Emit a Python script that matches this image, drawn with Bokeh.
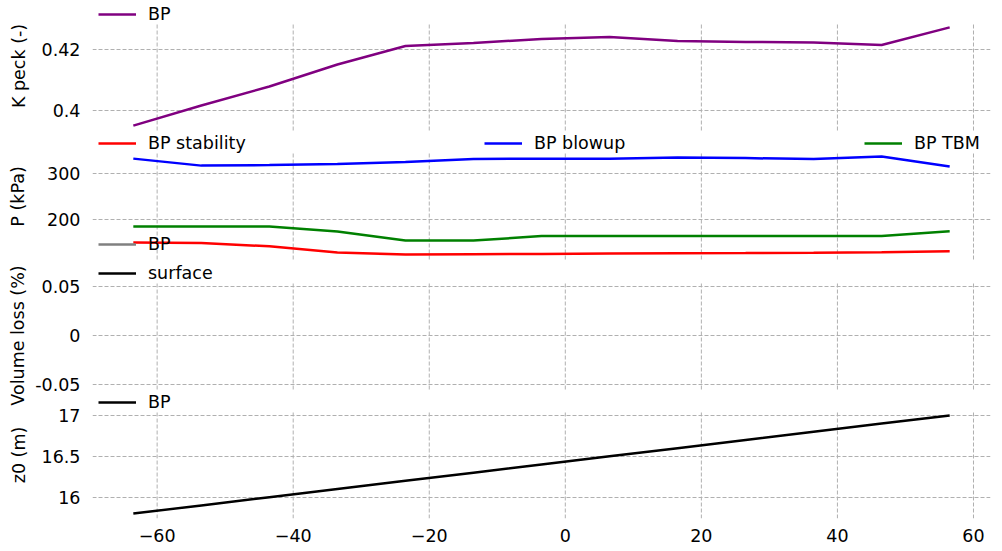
from bokeh.plotting import figure
from bokeh.models import Range1d, FixedTicker, Grid, Legend, LegendItem
from bokeh.layouts import column
from bokeh.embed import file_html
from bokeh.resources import INLINE

nan = float("nan")

# ---- data ----
chainage = [-63.5, -53.5, -43.5, -33.5, -23.5, -13.5, -3.5, 6.5, 16.5, 26.5, 36.5, 46.5, 56.5]

k_peck_bp = [0.39506, 0.40165, 0.40791, 0.41516, 0.42125, 0.42224, 0.42356,
             0.42422, 0.42290, 0.42257, 0.42241, 0.42158, 0.42735]

p_stability = [150.5, 149.6, 142.3, 128.7, 124.4, 125.1, 125.9, 126.6, 127.2, 127.6, 128.3, 129.4, 131.5]
p_blowup = [331.7, 316.6, 317.7, 319.9, 324.2, 330.7, 331.7, 331.7, 333.9, 332.8, 330.7, 336.5, 314.5]
p_tbm = [184.9, 184.9, 184.9, 174.1, 154.6, 154.6, 164.4, 164.4, 164.4, 164.4, 164.4, 164.4, 174.7]

vol_loss_bp = [nan, nan, nan, nan, nan, nan, nan, nan, nan, nan, nan, nan, nan]
vol_loss_surface = [nan, nan, nan, nan, nan, nan, nan, nan, nan, nan, nan, nan, nan]

z0_bp = [15.8, 15.9, 16.0, 16.1, 16.2, 16.3, 16.4, 16.5, 16.6, 16.7, 16.8, 16.9, 17.0]

x_ticks = [-60, -40, -20, 0, 20, 40, 60]
x_tick_labels = ["\u221260", "\u221240", "\u221220", "0", "20", "40", "60"]
k_ticks = [0.4, 0.42]
k_tick_labels = ["0.4", "0.42"]
p_ticks = [200, 300]
p_tick_labels = ["200", "300"]
v_ticks = [-0.05, 0, 0.05]
v_tick_labels = ["-0.05", "0", "0.05"]
z_ticks = [16, 16.5, 17]
z_tick_labels = ["16", "16.5", "17"]

# ---- styling ----
FONT = "DejaVu Sans"
FS = "17.5px"
GRID_COLOR = "#b0b0b0"
DASH = "4 2"
LW = 2.5


def padded(values):
    vals = [v for v in values if v == v]
    lo, hi = min(vals), max(vals)
    pad = 0.05 * (hi - lo)
    return lo - pad, hi + pad


x_lo, x_hi = padded(chainage)
xr = Range1d(x_lo, x_hi)


def make_fig(canvas_h, bottom_border, band_top, band_bottom, bounds,
             ticks, labels, ylabel, label_standoff, with_x=False, **kw):
    """band_top / band_bottom: pixel rows (from canvas top) of the panel's data band."""
    lo, hi = bounds
    frame_h = canvas_h - bottom_border
    per_px = (hi - lo) / (band_bottom - band_top)
    yr = Range1d(lo - (frame_h - band_bottom) * per_px, hi + band_top * per_px)
    p = figure(width=1002, height=canvas_h, x_range=xr, y_range=yr,
               output_backend="svg", toolbar_location=None,
               x_axis_location="below" if with_x else None,
               min_border_left=92, min_border_right=12,
               min_border_top=0, min_border_bottom=bottom_border, **kw)
    p.outline_line_color = None
    for g in p.grid:
        g.visible = False
    # horizontal grid lines at the y ticks
    p.add_layout(Grid(dimension=1, ticker=FixedTicker(ticks=ticks),
                      grid_line_color=GRID_COLOR, grid_line_dash=DASH, grid_line_width=1))
    # vertical grid lines, limited to this panel's band
    n = len(x_ticks)
    p.segment(x0=x_ticks, y0=[lo] * n, x1=x_ticks, y1=[hi] * n,
              line_color=GRID_COLOR, line_dash=DASH, line_width=1, level="underlay")
    ax = p.yaxis[0]
    ax.bounds = (lo, hi)
    ax.ticker = FixedTicker(ticks=ticks)
    ax.major_label_overrides = dict(zip(ticks, labels))
    ax.axis_label = ylabel
    ax.axis_line_color = None
    ax.major_tick_line_color = None
    ax.minor_tick_line_color = None
    ax.major_tick_out = 0
    ax.major_tick_in = 0
    ax.major_label_standoff = 12
    ax.axis_label_standoff = label_standoff
    ax.major_label_text_font = FONT
    ax.major_label_text_font_size = FS
    ax.major_label_text_color = "black"
    ax.axis_label_text_font = FONT
    ax.axis_label_text_font_size = FS
    ax.axis_label_text_font_style = "normal"
    ax.axis_label_text_color = "black"
    if with_x:
        xa = p.xaxis[0]
        xa.ticker = FixedTicker(ticks=x_ticks)
        xa.major_label_overrides = dict(zip(x_ticks, x_tick_labels))
        xa.axis_line_color = None
        xa.major_tick_line_color = None
        xa.minor_tick_line_color = None
        xa.major_tick_out = 0
        xa.major_tick_in = 0
        xa.major_label_standoff = 10
        xa.major_label_text_font = FONT
        xa.major_label_text_font_size = FS
        xa.major_label_text_color = "black"
    return p


def add_legend(p, label, renderer, vx, vy):
    p.add_layout(Legend(items=[LegendItem(label=label, renderers=[renderer])],
                        location=(vx, vy), orientation="vertical",
                        border_line_color=None, background_fill_alpha=0,
                        padding=0, margin=0, spacing=0,
                        glyph_width=38, glyph_height=20, label_height=20,
                        label_standoff=12, label_text_font=FONT, label_text_font_size=FS,
                        label_text_color="black"))


# panel 1: K peck  (canvas rows 0..131)
p1 = make_fig(131, 0, 22, 130, padded(k_peck_bp), k_ticks, k_tick_labels, "K peck (-)", 10)
r1 = p1.line(chainage, k_peck_bp, line_color="purple", line_width=LW)
add_legend(p1, "BP", r1, 6, 107)

# panel 2: pressures  (canvas rows 131..261)
p2 = make_fig(130, 0, 20, 128, padded(p_stability + p_blowup + p_tbm),
              p_ticks, p_tick_labels, "P (kPa)", 16)
r2a = p2.line(chainage, p_stability, line_color="red", line_width=LW)
r2b = p2.line(chainage, p_blowup, line_color="blue", line_width=LW)
r2c = p2.line(chainage, p_tbm, line_color="green", line_width=LW)
add_legend(p2, "BP stability", r2a, 6, 108)
add_legend(p2, "BP blowup", r2b, 392, 108)
add_legend(p2, "BP TBM", r2c, 772, 108)
# first entry of the volume-loss legend falls inside this band
r2v = p2.line(chainage, vol_loss_bp, line_color="gray", line_width=LW)
add_legend(p2, "BP", r2v, 6, 7)

# panel 3: volume loss  (canvas rows 261..409)
p3 = make_fig(148, 0, 20, 128, (-0.055, 0.055), v_ticks, v_tick_labels, "Volume loss (%)", 4)
r3a = p3.line(chainage, vol_loss_bp, line_color="gray", line_width=LW)
r3b = p3.line(chainage, vol_loss_surface, line_color="black", line_width=LW)
add_legend(p3, "surface", r3b, 6, 126)

# panel 4: z0  (canvas rows 391..551, overlapping the panel above by 18 px, transparent)
p4 = make_fig(160, 33, 19, 127, padded(z0_bp), z_ticks, z_tick_labels, "z0 (m)", 10,
              with_x=True, margin=(-18, 0, 0, 0))
p4.background_fill_alpha = 0
p4.border_fill_alpha = 0
r4 = p4.line(chainage, z0_bp, line_color="black", line_width=LW)
add_legend(p4, "BP", r4, 6, 106)

layout = column(p1, p2, p3, p4, spacing=0)
open("out.html", "w").write(file_html(layout, INLINE))
